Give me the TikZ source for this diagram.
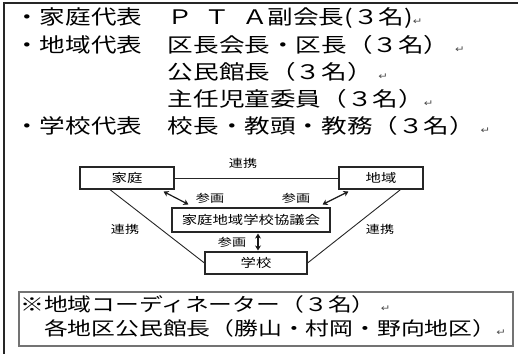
\documentclass[tikz,border=0pt]{standalone}
\usepackage{fontspec}
\usetikzlibrary{arrows.meta,calc}
\newfontfamily\jp{Noto Sans CJK JP}
\newfontfamily\dv{DejaVu Sans}
\newcommand\wide[1]{\scalebox{1.28}[1]{#1}}
\newcommand\retmark{{\dv\fontsize{9}{9}\selectfont\textcolor{black!70}{↵}}}
\tikzset{
  x=1pt, y=-1pt,
  row/.style={anchor=west, inner sep=0pt, font=\jp\fontsize{20}{20}\selectfont},
  brow/.style={anchor=west, inner sep=0pt, font=\jp\fontsize{18.6}{18.6}\selectfont},
  box/.style={draw=black!85, line width=1.1pt, inner sep=0pt, font=\jp\fontsize{12}{12}\selectfont},
  lbl/.style={inner sep=0pt, font=\jp\fontsize{11}{11}\selectfont},
  link/.style={draw=black!85, line width=0.9pt},
  arr/.style={draw=black!90, line width=1.2pt, {Stealth[length=5pt,width=6pt]}-{Stealth[length=5pt,width=6pt]}},
}
\begin{document}
\begin{tikzpicture}
\useasboundingbox (0,0) rectangle (518,353);
% outer frame
\draw[line width=1.6pt, black!85] (4,360) -- (4,3) -- (530,3);
% header rows
\node[row] (r1) at (14,18) {\wide{・家庭代表　Ｐ\hspace{0.45em}Ｔ\hspace{0.45em}Ａ副会長(３名)\retmark}};
\node[row] (r2) at (14,45) {\wide{・地域代表　区長会長・区長（３名）\ \retmark}};
\node[row] (r3) at (14,72) {\wide{\phantom{・地域代表　}公民館長（３名）\ \retmark}};
\node[row] (r4) at (14,99) {\wide{\phantom{・地域代表　}主任児童委員（３名）\retmark}};
\node[row] (r5) at (14,126) {\wide{・学校代表　校長・教頭・教務（３名）\ \retmark}};
% diagram boxes
\node[box, minimum width=94pt, minimum height=22pt] (katei) at (127,178) {\wide{家庭}};
\node[box, minimum width=84pt, minimum height=22pt] (chiiki) at (381,178) {\wide{地域}};
\node[box, minimum width=158pt, minimum height=24pt] (kyo) at (251,220) {\wide{家庭地域学校協議会}};
\node[box, minimum width=102pt, minimum height=22pt] (gakko) at (256,263) {\wide{学校}};
% links
\draw[link] (katei.east) -- (chiiki.west);
\draw[link] ($(katei.south west)!0.32!(katei.south east)$) -- (gakko.west);
\draw[link] ($(chiiki.south west)!0.73!(chiiki.south east)$) -- (gakko.east);
\node[lbl] (l1) at (243,163) {\wide{連携}};
\node[lbl] (l2) at (125,229) {\wide{連携}};
\node[lbl] (l3) at (380,229) {\wide{連携}};
% participation arrows
\draw[arr] ($(katei.south east)+(-11,2)$) -- ($(kyo.north west)+(17,-3)$);
\draw[arr] ($(chiiki.south west)+(10,2)$) -- ($(kyo.north east)+(-8,-3)$);
\draw[arr] ($(kyo.south)+(7,1)$) -- ($(gakko.north)+(2,-1)$);
\node[lbl] (s1) at (210,198) {\wide{参画}};
\node[lbl] (s2) at (296,198) {\wide{参画}};
\node[lbl] (s3) at (232,242) {\wide{参画}};
% coordinator box
\node[draw=black!55, line width=1.6pt, minimum width=494pt, minimum height=54pt, inner sep=0pt] (coord) at (266,319) {};
\node[brow] (c1) at (20,304) {\wide{※地域コーディネーター（３名）\ \retmark}};
\node[brow] (c2) at (20,328) {\wide{　各地区公民館長（勝山・村岡・野向地区）\retmark}};
\end{tikzpicture}
\end{document}
